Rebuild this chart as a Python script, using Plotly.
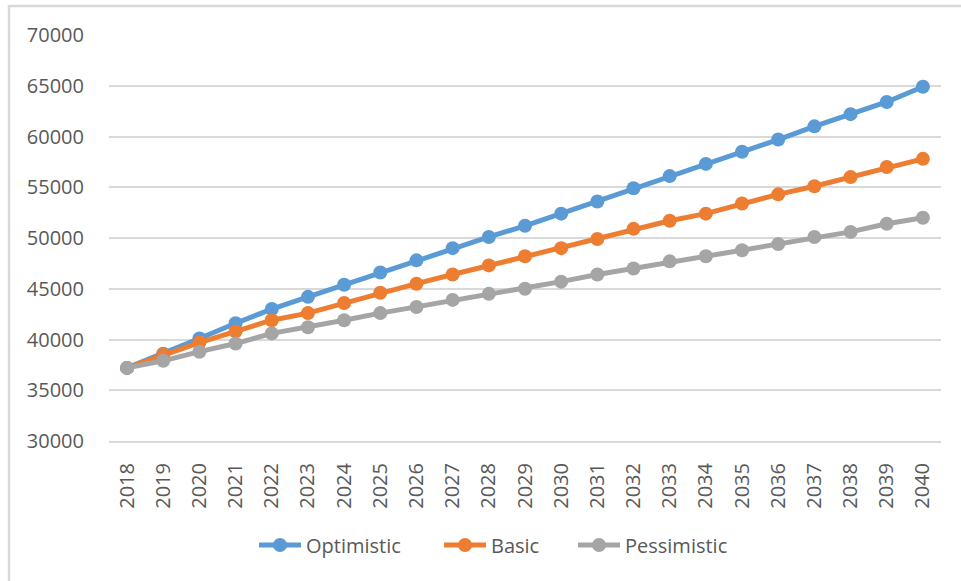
import plotly.graph_objects as go

# Forecast years and three scenarios
years = [str(y) for y in range(2018, 2041)]
optimistic = [37200, 38600, 40100, 41600, 43000, 44200, 45400, 46600, 47800, 49000,
              50100, 51200, 52400, 53600, 54900, 56100, 57300, 58500, 59700, 61000,
              62200, 63400, 64900]
basic = [37200, 38500, 39700, 40800, 41900, 42600, 43600, 44600, 45500, 46400,
         47300, 48200, 49000, 49900, 50900, 51700, 52400, 53400, 54300, 55100,
         56000, 57000, 57800]
pessimistic = [37200, 37900, 38800, 39600, 40600, 41200, 41900, 42600, 43200, 43900,
               44500, 45000, 45700, 46400, 47000, 47700, 48200, 48800, 49400, 50100,
               50600, 51400, 52000]
y_ticks = [30000, 35000, 40000, 45000, 50000, 55000, 60000, 65000, 70000]
y_tick_text = [str(v) for v in y_ticks]

series = [
    ("Optimistic", optimistic, "#5B9BD5"),
    ("Basic", basic, "#ED7D31"),
    ("Pessimistic", pessimistic, "#A5A5A5"),
]

FONT = "Open Sans"
TEXT = "#595959"
GRID = "#D9D9D9"
FS = 20

W, H = 961, 581
L, R, T, B = 109, 20, 35, 140
pw = W - L - R
ph = H - T - B

# one legend box per series so entries can be spaced freely along the bottom
legend_left_px = [254, 439, 573]
legend_keys = ["legend", "legend2", "legend3"]

fig = go.Figure()
for (name, vals, color), key in zip(series, legend_keys):
    fig.add_trace(go.Scatter(
        x=years, y=vals, name=name, mode="lines+markers",
        line=dict(color=color, width=5),
        marker=dict(color=color, size=14),
        legend=key,
    ))

legend_y = -(545 - T - ph) / ph
legend_common = dict(
    orientation="h", xanchor="left", yanchor="middle", y=legend_y,
    font=dict(family=FONT, size=FS, color=TEXT),
    bgcolor="rgba(0,0,0,0)", itemwidth=42,
)

fig.update_layout(
    width=W, height=H,
    margin=dict(l=L, r=R, t=T, b=B),
    paper_bgcolor="white", plot_bgcolor="white",
    font=dict(family=FONT, size=FS, color=TEXT),
    showlegend=True,
    xaxis=dict(
        type="category", range=[-0.5, len(years) - 0.5],
        showgrid=False, showline=True, linecolor=GRID, linewidth=2,
        ticks="outside", ticklen=12, tickcolor="rgba(0,0,0,0)",
        tickangle=-90, tickfont=dict(family=FONT, size=FS, color=TEXT),
        fixedrange=True,
    ),
    yaxis=dict(
        range=[30000, 70000], tickvals=y_ticks, ticktext=y_tick_text,
        showgrid=True, gridcolor=GRID, gridwidth=2,
        zeroline=False, showline=False,
        ticks="outside", ticklen=20, tickcolor="rgba(0,0,0,0)",
        tickfont=dict(family=FONT, size=FS, color=TEXT),
        fixedrange=True,
    ),
)
for key, px in zip(legend_keys, legend_left_px):
    fig.update_layout({key: dict(legend_common, x=(px - L) / pw)})

# Light chart-area frame (top and left edges visible)
fig.add_shape(
    type="rect", xref="paper", yref="paper",
    x0=(9 - L) / pw, x1=(W + 20 - L) / pw,
    y0=-(H + 20 - T - ph) / ph, y1=1 + (T - 6) / ph,
    line=dict(color=GRID, width=2.5), fillcolor="rgba(0,0,0,0)", layer="below",
)

fig.write_html("out.html")
